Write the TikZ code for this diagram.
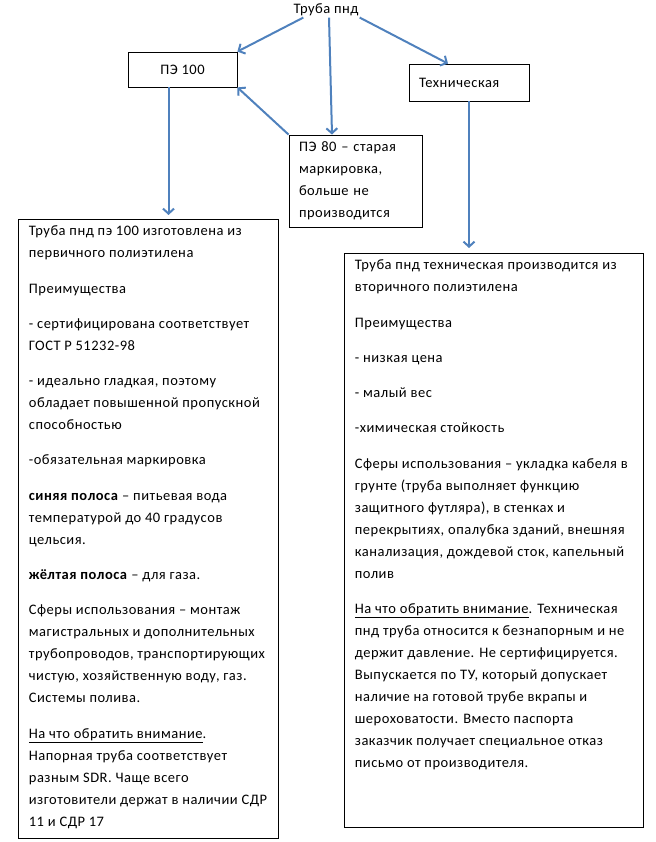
\documentclass[tikz,border=0pt]{standalone}
\usepackage{fontspec}
\setmainfont{Carlito}[LetterSpace=3.5]
\usepackage{tikz}
\usetikzlibrary{arrows.meta,positioning,calc}
\definecolor{pipeBlue}{RGB}{79, 129, 189}

\begin{document}
\begin{tikzpicture}[
        x=1pt, y=-1pt,
        font=\fontsize{14.5}{22}\selectfont,
        grade/.style={rectangle, draw, line width=0.8pt, minimum height=35pt, inner xsep=10pt, align=left},
        panel/.style={rectangle, draw, line width=0.8pt, inner xsep=10.5pt, inner ysep=6.5pt, anchor=north west},
        arrow/.style={-{Straight Barb[length=5pt, width=11pt]}, line width=2pt, draw=pipeBlue}
    ]
        \useasboundingbox (0,0) rectangle (655,842);

        % Root
        \node[inner sep=1pt, anchor=base] (root) at (326,14) {Труба пнд};

        % Grades
        \node[grade, minimum width=109pt, align=center] (pe100) at (182.5,69.5) {ПЭ 100};
        \node[grade, minimum width=120pt, minimum height=37pt, text width=100pt] (tech) at (469,82.5) {Техническая};
        \node[grade, minimum width=133pt, minimum height=92pt, text width=113pt] (pe80) at (355.5,181) {ПЭ 80 – старая\\маркировка,\\больше не\\производится};

        % Descriptions
        \node[panel] (pe100text) at (18,219) {\begin{minipage}[t][606pt][t]{239pt}\raggedright\setlength{\parskip}{13.3pt}
            Труба пнд пэ 100 изготовлена из\\первичного полиэтилена\par
            Преимущества\par
            - сертифицирована соответствует\\ГОСТ Р 51232-98\par
            - идеально гладкая, поэтому\\обладает повышенной пропускной\\способностью\par
            -обязательная маркировка\par
            \textbf{синяя полоса} – питьевая вода\\температурой до 40 градусов\\цельсия.\par
            \textbf{жёлтая полоса} – для газа.\par
            Сферы использования – монтаж\\магистральных и дополнительных\\трубопроводов, транспортирующих\\чистую, хозяйственную воду, газ.\\Системы полива.\par
            \underline{На что обратить внимание}.\\Напорная труба соответствует\\разным SDR. Чаще всего\\изготовители держат в наличии СДР\\11 и СДР 17
        \end{minipage}};
        \node[panel] (techtext) at (344,253) {\begin{minipage}[t][561pt][t]{278pt}\raggedright\setlength{\parskip}{13.3pt}
            Труба пнд техническая производится из\\вторичного полиэтилена\par
            Преимущества\par
            - низкая цена\par
            - малый вес\par
            -химическая стойкость\par
            Сферы использования – укладка кабеля в\\грунте (труба выполняет функцию\\защитного футляра), в стенках и\\перекрытиях, опалубка зданий, внешняя\\канализация, дождевой сток, капельный\\полив\par
            \underline{На что обратить внимание}. Техническая\\пнд труба относится к безнапорным и не\\держит давление. Не сертифицируется.\\Выпускается по ТУ, который допускает\\наличие на готовой трубе вкрапы и\\шероховатости. Вместо паспорта\\заказчик получает специальное отказ\\письмо от производителя.
        \end{minipage}};

        % Arrows
        \draw[arrow] ([xshift=11pt]root.south west) -- (pe100.north east);
        \draw[arrow] ([xshift=3pt]root.south) -- ([xshift=-23.5pt]pe80.north);
        \draw[arrow] (root.south east) -- ([xshift=-21pt]tech.north);
        \draw[arrow] (pe80.north west) -- (pe100.south east);
        \draw[arrow, shorten >=4pt] ([xshift=-14pt]pe100.south) -- ([xshift=-14pt]pe100.south |- pe100text.north);
        \draw[arrow, shorten >=5pt] (tech.south) -- (tech.south |- techtext.north);

    \end{tikzpicture}
\end{document}
